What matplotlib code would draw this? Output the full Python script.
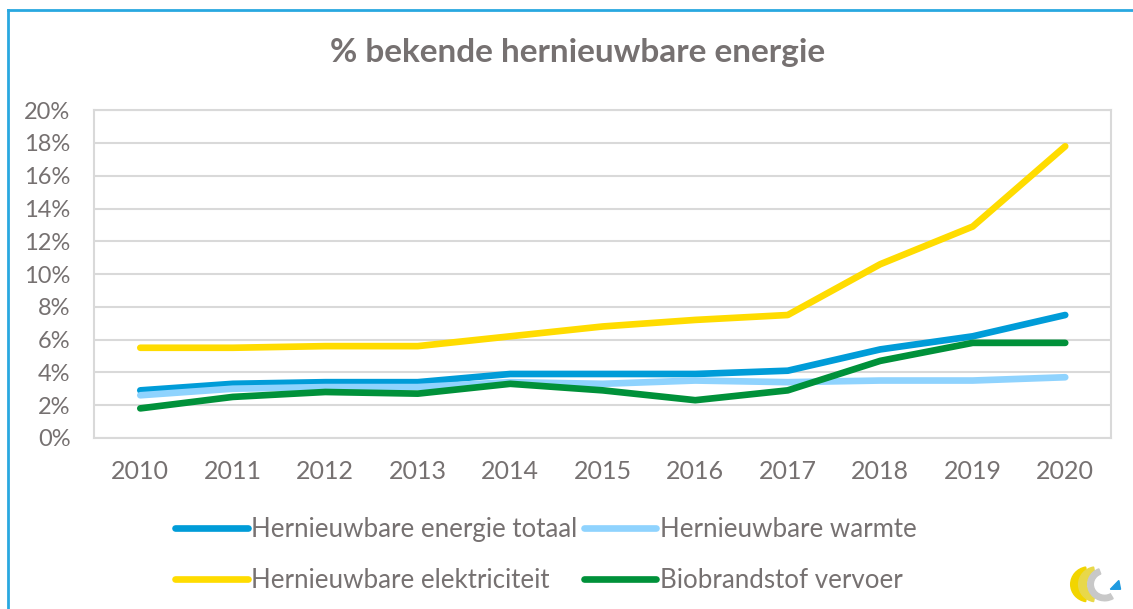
import numpy as np
import matplotlib.pyplot as plt
from matplotlib.patches import Wedge, Polygon
from matplotlib.lines import Line2D

plt.rcParams['font.family'] = ['Lato', 'DejaVu Sans']

jaren = ['2010', '2011', '2012', '2013', '2014', '2015', '2016', '2017', '2018', '2019', '2020']
totaal = [2.9, 3.3, 3.4, 3.4, 3.9, 3.9, 3.9, 4.1, 5.4, 6.2, 7.5]
warmte = [2.6, 3.0, 3.1, 3.1, 3.4, 3.3, 3.5, 3.4, 3.5, 3.5, 3.7]
elektriciteit = [5.5, 5.5, 5.6, 5.6, 6.2, 6.8, 7.2, 7.5, 10.6, 12.9, 17.8]
vervoer = [1.8, 2.5, 2.8, 2.7, 3.3, 2.9, 2.3, 2.9, 4.7, 5.8, 5.8]

namen = ['Hernieuwbare energie totaal', 'Hernieuwbare warmte',
         'Hernieuwbare elektriciteit', 'Biobrandstof vervoer']
kleuren = ['#009CD8', '#8FD3FE', '#FFDC00', '#00913A']
grijs = '#767171'

fig = plt.figure(figsize=(11.33, 6.09), dpi=100)
ax = fig.add_axes([0.083, 0.281, 0.898, 0.538])

x = np.arange(len(jaren))
for reeks, kleur in zip([totaal, warmte, elektriciteit, vervoer], kleuren):
    ax.plot(x, reeks, color=kleur, lw=4.8, solid_capstyle='round', solid_joinstyle='round')

ax.set_xlim(-0.5, len(jaren) - 0.5)
ax.set_ylim(0, 20)
ax.set_yticks(np.arange(0, 21, 2))
ax.set_yticklabels([f'{v}%' for v in range(0, 21, 2)])
ax.set_xticks(x)
ax.set_xticklabels(jaren)
ax.yaxis.grid(True, color='#D9D9D9', lw=1.5)
ax.set_axisbelow(True)
for s in ax.spines.values():
    s.set_color('#D9D9D9')
    s.set_linewidth(1.5)
ax.tick_params(length=0, labelcolor=grijs)
ax.tick_params(axis='x', pad=16, labelsize=18)
ax.tick_params(axis='y', pad=17, labelsize=17)

fig.text(0.51, 0.913, '% bekende hernieuwbare energie', ha='center', va='center',
         fontsize=24, fontweight='bold', color=grijs)

# legenda rij voor rij: kolom 1 = totaal, elektriciteit; kolom 2 = warmte, vervoer
volgorde = [0, 2, 1, 3]
handles = [Line2D([], [], color=kleuren[i], lw=4.8, solid_capstyle='round') for i in volgorde]
fig.legend(handles, [namen[i] for i in volgorde], ncol=2, loc='center',
           bbox_to_anchor=(0.482, 0.088), frameon=False, fontsize=18.6, labelcolor=grijs,
           handlelength=2.8, handletextpad=0.15, columnspacing=0.25, labelspacing=1.0)

# blauwe kader links en boven
fig.add_artist(Line2D([0.0075, 0.0075], [0, 0.984], color='#29A8E0', lw=2, transform=fig.transFigure))
fig.add_artist(Line2D([0.0075, 1.0], [0.984, 0.984], color='#29A8E0', lw=2, transform=fig.transFigure))

# klein logo rechtsonder
lax = fig.add_axes([0.94, 0.0, 0.05, 0.09])
lax.set_xlim(0, 10)
lax.set_ylim(0, 10)
lax.axis('off')
lax.add_patch(Wedge((4.2, 4.5), 3.2, 100, 260, width=1.4, color='#F2D500'))
lax.add_patch(Wedge((5.6, 4.5), 3.2, 100, 260, width=1.4, color='#E8D84A'))
lax.add_patch(Wedge((7.0, 4.5), 3.0, 110, 300, width=1.0, color='#C8C8C8'))
lax.add_patch(Polygon([[8.0, 3.6], [9.8, 3.6], [9.5, 5.2]], color='#1E9AE0'))

fig.savefig('out.png', dpi=100, facecolor='white')
